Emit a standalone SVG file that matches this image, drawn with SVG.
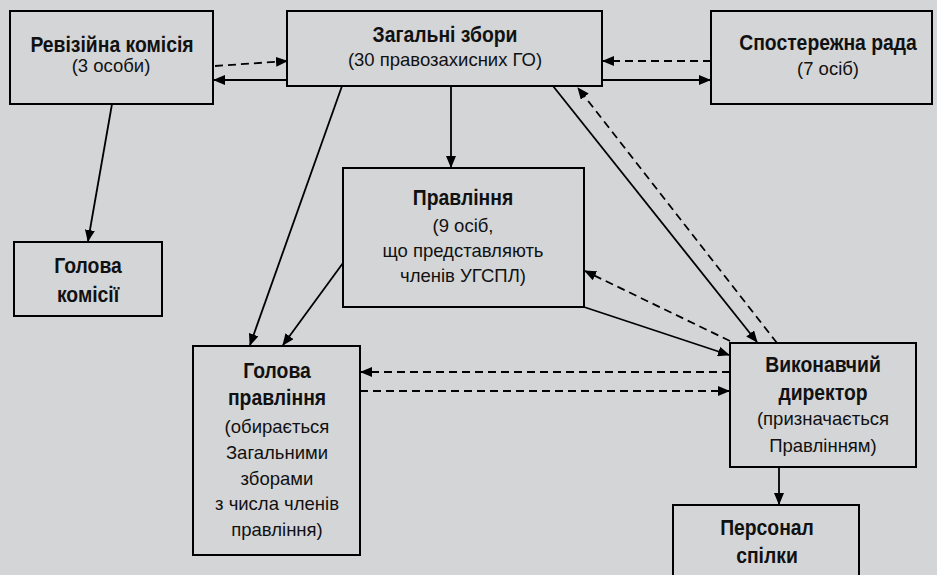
<svg xmlns="http://www.w3.org/2000/svg" width="937" height="575" viewBox="0 0 937 575">
<style>
.bg{fill:#d4d5d7}
.box{fill:#d4d5d7;stroke:#000;stroke-width:2}
text{font-family:"Liberation Sans",Arial,sans-serif;text-anchor:middle;fill:#111}
.b{font-weight:bold;font-size:21.5px}
.r{font-size:18.5px}
.ln{stroke:#000;stroke-width:1.8;fill:none;marker-end:url(#ah)}
.d{stroke-dasharray:8,5}
</style>
<defs>
<marker id="ah" markerUnits="userSpaceOnUse" markerWidth="12" markerHeight="10" refX="11" refY="5" orient="auto">
<path d="M0,0 L12,5 L0,10 z" fill="#000"/>
</marker>
</defs>
<rect class="bg" x="0" y="0" width="937" height="575"/>
<g id="connectors">
<line class="ln d" x1="215" y1="66" x2="287" y2="61"/>
<line class="ln" x1="287" y1="80" x2="214" y2="80"/>
<line class="ln d" x1="711" y1="61" x2="603" y2="61"/>
<line class="ln" x1="602" y1="80" x2="710" y2="80"/>
<line class="ln" x1="112" y1="104" x2="88" y2="241"/>
<line class="ln" x1="342" y1="86" x2="250" y2="345"/>
<line class="ln" x1="451" y1="86" x2="451" y2="167"/>
<line class="ln" x1="343" y1="263" x2="283" y2="345"/>
<line class="ln" x1="553" y1="86" x2="757" y2="342"/>
<line class="ln d" x1="777" y1="343" x2="578" y2="88"/>
<line class="ln d" x1="730" y1="341" x2="585" y2="271"/>
<line class="ln" x1="584" y1="307" x2="729" y2="355"/>
<line class="ln d" x1="730" y1="372" x2="361" y2="372"/>
<line class="ln d" x1="360" y1="391" x2="729" y2="391"/>
<line class="ln" x1="779" y1="467" x2="779" y2="504"/>
</g>
<g id="revizijna">
<rect class="box" x="10" y="11" width="203" height="93"/>
<text class="b" transform="translate(112,52) scale(0.9,1)">Ревізійна комісія</text>
<text class="r" x="111" y="72">(3 особи)</text>
</g>
<g id="zagalni">
<rect class="box" x="287" y="11" width="315" height="75"/>
<text class="b" transform="translate(445,42) scale(0.9,1)">Загальні збори</text>
<text class="r" x="445" y="66">(30 правозахисних ГО)</text>
</g>
<g id="sposterezhna">
<rect class="box" x="711" y="11" width="221" height="93"/>
<text class="b" transform="translate(828,50) scale(0.9,1)">Спостережна рада</text>
<text class="r" x="828" y="75">(7 осіб)</text>
</g>
<g id="golova-komisii">
<rect class="box" x="14" y="242" width="148" height="74"/>
<text class="b" transform="translate(88,273) scale(0.9,1)">Голова</text>
<text class="b" transform="translate(88,302) scale(0.9,1)">комісії</text>
</g>
<g id="pravlinnia">
<rect class="box" x="343" y="168" width="241" height="139"/>
<text class="b" transform="translate(463,205) scale(0.9,1)">Правління</text>
<text class="r" x="463" y="232">(9 осіб,</text>
<text class="r" x="463" y="257">що представляють</text>
<text class="r" x="463" y="282">членів УГСПЛ)</text>
</g>
<g id="golova-pravlinnia">
<rect class="box" x="193" y="346" width="167" height="209"/>
<text class="b" transform="translate(277,378) scale(0.9,1)">Голова</text>
<text class="b" transform="translate(277,405) scale(0.9,1)">правління</text>
<text class="r" x="277" y="433">(обирається</text>
<text class="r" x="277" y="459">Загальними</text>
<text class="r" x="277" y="485">зборами</text>
<text class="r" x="277" y="510">з числа членів</text>
<text class="r" x="277" y="536">правління)</text>
</g>
<g id="vykonavchyj">
<rect class="box" x="730" y="343" width="186" height="124"/>
<text class="b" transform="translate(823,372) scale(0.9,1)">Виконавчий</text>
<text class="b" transform="translate(823,400) scale(0.9,1)">директор</text>
<text class="r" x="823" y="425">(призначається</text>
<text class="r" x="823" y="452">Правлінням)</text>
</g>
<g id="personal">
<rect class="box" x="673" y="505" width="186" height="80"/>
<text class="b" transform="translate(767,535) scale(0.9,1)">Персонал</text>
<text class="b" transform="translate(767,563) scale(0.9,1)">спілки</text>
</g>
</svg>
